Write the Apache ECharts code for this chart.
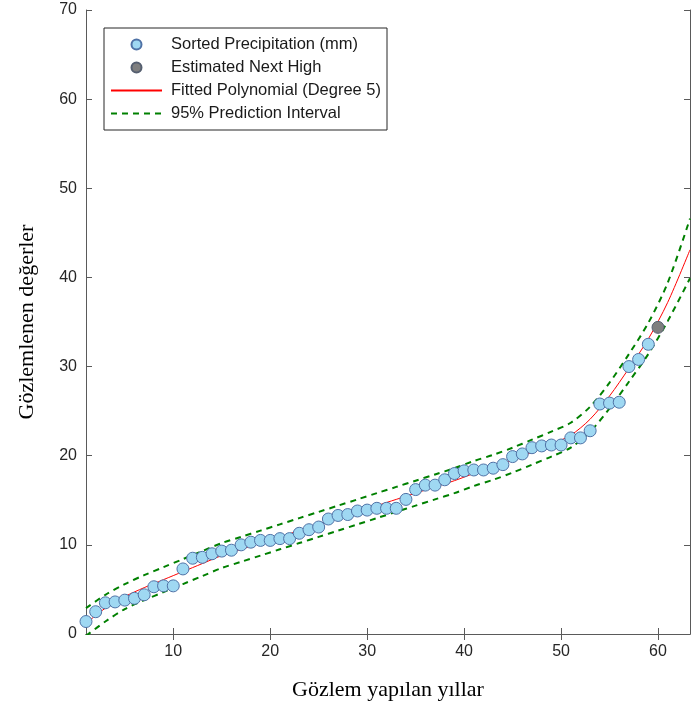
<!DOCTYPE html>
<html>
<head>
<meta charset="utf-8">
<script src="https://cdn.jsdelivr.net/npm/echarts@6/dist/echarts.min.js"></script>
<style>
  html, body { margin: 0; padding: 0; background: #fff; }
  #chart { width: 691px; height: 713px; }
</style>
</head>
<body>
<div id="chart"></div>
<script>
// observed (sorted) values, years 1..59
const years = [1,2,3,4,5,6,7,8,9,10,11,12,13,14,15,16,17,18,19,20,21,22,23,24,25,26,27,28,29,30,
  31,32,33,34,35,36,37,38,39,40,41,42,43,44,45,46,47,48,49,50,51,52,53,54,55,56,57,58,59]
const precip = [1.4,2.5,3.5,3.6,3.8,4.0,4.4,5.3,5.4,5.4,7.3,8.5,8.6,9.0,9.3,9.4,10.0,10.3,10.5,10.5,
  10.7,10.7,11.3,11.7,12.0,12.9,13.3,13.4,13.8,13.9,14.1,14.1,14.1,15.1,16.2,16.7,16.7,17.3,18.0,18.3,
  18.4,18.4,18.6,19.0,19.9,20.2,20.9,21.1,21.2,21.2,22.0,22.0,22.8,25.8,25.9,26.0,30.0,30.8,32.5]

const nextHigh = [60, 34.4]

// fitted curve and prediction band
const curveX = [1,3,5,7,9,11,13,15,17,19,21,23,25,27,29,31,33,35,37,39,41,43,45,47,49,51,53,55,57,59,61,63.3]
const fitY = [1.2,2.9,4.2,5.2,6.1,7.0,7.9,8.8,9.5,10.2,10.9,11.6,12.3,13.0,13.7,14.4,15.1,15.8,16.5,17.2,
  18.0,18.7,19.5,20.4,21.3,22.3,24.1,26.7,29.8,33.1,37.2,43.1]
const upperY = [2.9,4.4,5.6,6.6,7.5,8.4,9.3,10.2,10.9,11.6,12.3,13.0,13.7,14.4,15.1,15.8,16.5,17.2,17.9,18.6,
  19.4,20.1,20.9,21.8,22.7,23.7,25.5,28.2,31.4,34.9,39.4,46.6]
const lowerY = [-0.2,1.4,2.8,3.8,4.7,5.6,6.5,7.4,8.1,8.8,9.5,10.2,10.9,11.6,12.3,13.0,13.7,14.4,15.1,15.8,
  16.6,17.3,18.1,19.0,19.9,20.9,22.7,25.3,28.3,31.4,35.1,39.9]

const xTicks = [10, 20, 30, 40, 50, 60]

const axisColor = '#5a5a5a'
const labelFont = 'Liberation Sans, Arial, sans-serif'

const pairs = (xs, ys) => xs.map((x, i) => [x, ys[i]])

const chart = echarts.init(document.getElementById('chart'))
chart.setOption({
  animation: false,
  grid: { left: 86, right: 1, top: 10, bottom: 79 },
  legend: {
    orient: 'vertical',
    left: 104,
    top: 28,
    padding: [8, 6, 8, 6],
    backgroundColor: '#fff',
    borderColor: '#262626',
    borderWidth: 1,
    borderRadius: 0,
    itemWidth: 51,
    itemHeight: 10,
    itemGap: 6,
    textStyle: { fontFamily: labelFont, fontSize: 16.5, color: '#1a1a1a', lineHeight: 16, padding: [0, 0, 0, 4] },
    data: [
      { name: 'Sorted Precipitation (mm)' },
      { name: 'Estimated Next High' },
      { name: 'Fitted Polynomial (Degree 5)', itemStyle: { opacity: 0 } },
      { name: '95% Prediction Interval', itemStyle: { opacity: 0 } }
    ]
  },
  xAxis: [{
    type: 'value',
    min: 1,
    max: 63.3,
    name: 'Gözlem yapılan yıllar',
    nameLocation: 'middle',
    nameGap: 45,
    nameTextStyle: { fontFamily: 'Liberation Serif, Times New Roman, serif', fontSize: 22, color: '#000' },
    axisLine: { show: true, lineStyle: { color: axisColor } },
    axisTick: { inside: true, length: 6, customValues: xTicks, lineStyle: { color: axisColor } },
    axisLabel: { customValues: xTicks, fontFamily: labelFont, fontSize: 16, color: '#262626', margin: 10 },
    splitLine: { show: false }
  }, {
    type: 'value',
    position: 'top',
    min: 1,
    max: 63.3,
    axisLine: { show: true, lineStyle: { color: axisColor } },
    axisTick: { inside: true, length: 6, customValues: xTicks, lineStyle: { color: axisColor } },
    axisLabel: { show: false },
    splitLine: { show: false }
  }],
  yAxis: [{
    type: 'value',
    min: 0,
    max: 70,
    interval: 10,
    name: 'Gözlemlenen değerler',
    nameLocation: 'middle',
    nameGap: 48,
    nameTextStyle: { fontFamily: 'Liberation Serif, Times New Roman, serif', fontSize: 22, color: '#000' },
    axisLine: { show: true, lineStyle: { color: axisColor } },
    axisTick: { inside: true, length: 6, lineStyle: { color: axisColor } },
    axisLabel: { fontFamily: labelFont, fontSize: 16, color: '#262626', margin: 9 },
    splitLine: { show: false }
  }, {
    type: 'value',
    position: 'right',
    min: 0,
    max: 70,
    interval: 10,
    axisLine: { show: true, lineStyle: { color: axisColor } },
    axisTick: { inside: true, length: 6, lineStyle: { color: axisColor } },
    axisLabel: { show: false },
    splitLine: { show: false }
  }],
  series: [
    {
      name: '95% Prediction Interval',
      type: 'line',
      smooth: 0.3,
      symbol: 'none',
      data: pairs(curveX, upperY),
      lineStyle: { color: '#008000', width: 2, type: [6, 5] },
      itemStyle: { color: '#008000' },
      z: 2
    },
    {
      name: '95% Prediction Interval',
      type: 'line',
      smooth: 0.3,
      symbol: 'none',
      data: pairs(curveX, lowerY),
      lineStyle: { color: '#008000', width: 2, type: [6, 5] },
      itemStyle: { color: '#008000' },
      z: 2
    },
    {
      name: 'Fitted Polynomial (Degree 5)',
      type: 'line',
      smooth: 0.3,
      symbol: 'none',
      data: pairs(curveX, fitY),
      lineStyle: { color: '#ff0000', width: 1 },
      itemStyle: { color: '#ff0000' },
      z: 3
    },
    {
      name: 'Sorted Precipitation (mm)',
      type: 'scatter',
      symbol: 'circle',
      symbolSize: 12,
      data: pairs(years, precip),
      itemStyle: { color: '#9fd8f2', borderColor: '#4f72a6', borderWidth: 1, opacity: 1 },
      z: 4
    },
    {
      name: 'Estimated Next High',
      type: 'scatter',
      symbol: 'circle',
      symbolSize: 12,
      data: [nextHigh],
      itemStyle: { color: '#7f7f7f', borderColor: '#555f70', borderWidth: 1, opacity: 1 },
      z: 5
    }
  ]
})
</script>
</body>
</html>
